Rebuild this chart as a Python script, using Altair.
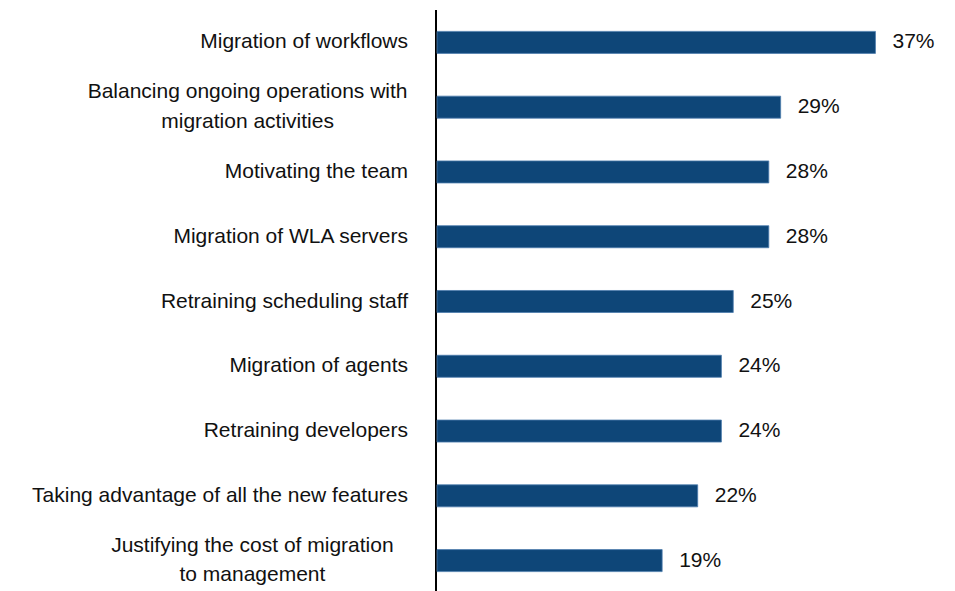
import altair as alt
import pandas as pd

categories = [
    "Migration of workflows",
    "Balancing ongoing operations with\nmigration activities",
    "Motivating the team",
    "Migration of WLA servers",
    "Retraining scheduling staff",
    "Migration of agents",
    "Retraining developers",
    "Taking advantage of all the new features",
    "Justifying the cost of migration\nto management",
]
values = [37, 29, 28, 28, 25, 24, 24, 22, 19]

df = pd.DataFrame({"category": categories, "value": values})

FONT = "Liberation Sans, Arial, sans-serif"
FS = 21
TXT = "#111111"
LH = 29.5

yscale = alt.Scale(range=[0, 583], paddingInner=0.66, paddingOuter=0.33)
xscale = alt.Scale(domain=[0, 40])

y_enc = alt.Y("category:N", sort=categories, scale=yscale, axis=None)
x_enc = alt.X("value:Q", scale=xscale, axis=None)

base = alt.Chart(df)

axis_line = alt.Chart(pd.DataFrame({"v": [0]})).mark_rule(
    color="#000000", strokeWidth=2
).encode(x=alt.value(-1), y=alt.value(0), y2=alt.value(590))

bars = base.mark_bar(color="#0E4678", stroke="#4D7CAD", strokeWidth=0.8).encode(
    x=x_enc, y=y_enc
)

vals = base.transform_calculate(label="datum.value + '%'").mark_text(
    align="left", baseline="middle", dx=17, font=FONT, fontSize=FS, color=TXT
).encode(x=x_enc, y=y_enc, text="label:N")

single = base.transform_filter("indexof(datum.category, '\\n') < 0").mark_text(
    align="right", baseline="middle", font=FONT, fontSize=FS, color=TXT
).encode(x=alt.value(-29), y=y_enc, text="category:N")

multi = base.transform_filter("indexof(datum.category, '\\n') >= 0").transform_calculate(
    cx="-31 - length(split(datum.category, '\\n')[0]) * 4.8"
).mark_text(
    align="center", baseline="middle", lineBreak="\n", lineHeight=LH, dy=-LH / 2,
    font=FONT, fontSize=FS, color=TXT
).encode(x=alt.X("cx:Q", scale=None, axis=None), y=y_enc, text="category:N")

chart = alt.layer(axis_line, bars, vals, single, multi).resolve_scale(x="independent").properties(
    width=474,
    height=583,
    autosize=alt.AutoSizeParams(type="none"),
    padding={"left": 429, "top": 2, "right": 30, "bottom": 0},
).configure_view(stroke=None)

chart.save("out.html", embed_options={"renderer": "svg", "actions": False})
